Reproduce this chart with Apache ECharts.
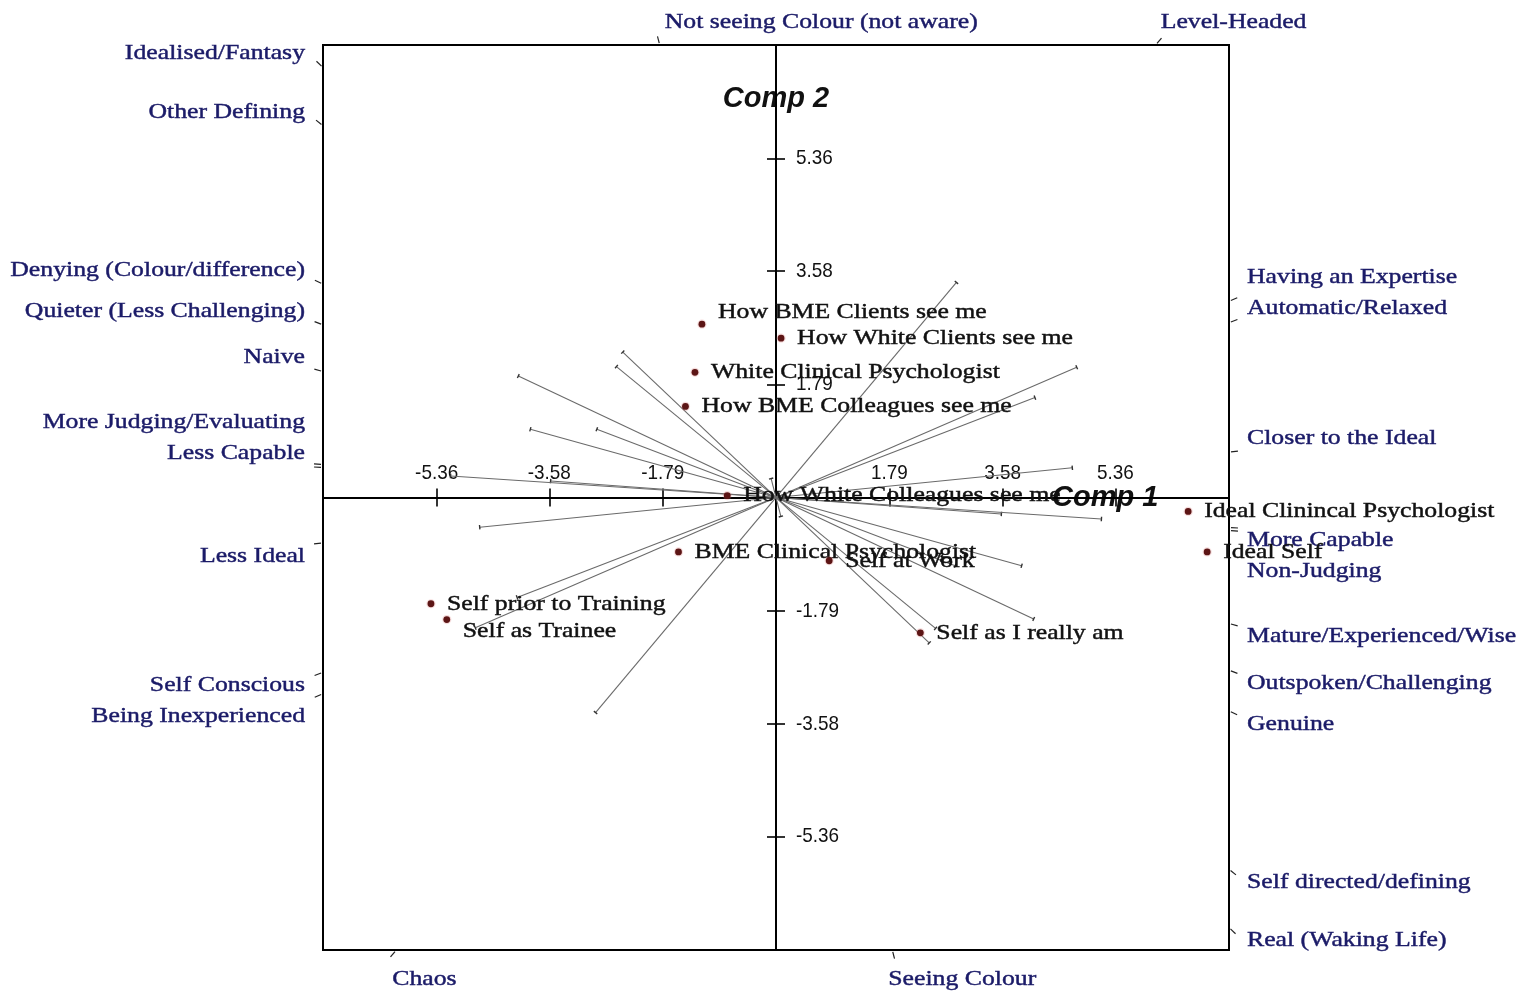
<!DOCTYPE html>
<html>
<head>
<meta charset="utf-8">
<title>Repertory grid biplot</title>
<script src="https://cdn.jsdelivr.net/npm/echarts@6/dist/echarts.min.js"></script>
<style>
  html, body { margin: 0; padding: 0; background: #ffffff; }
  #chart { width: 1523px; height: 994px; }
</style>
</head>
<body>
<div id="chart"></div>
<script>
// Elements: scores on the first two principal components
const elementNames = [
  'How BME Clients see me', 'How White Clients see me', 'White Clinical Psychologist',
  'How BME Colleagues see me', 'How White Colleagues see me', 'BME Clinical Psychologist',
  'Self at Work', 'Self as I really am', 'Self prior to Training', 'Self as Trainee',
  'Ideal Clinincal Psychologist', 'Ideal Self'
];
const elementComp1 = [-1.17, 0.08, -1.28, -1.43, -0.77, -1.54, 0.84, 2.28, -5.45, -5.20, 6.51, 6.81];
const elementComp2 = [2.74, 2.52, 1.98, 1.44, 0.03, -0.86, -1.00, -2.14, -1.68, -1.93, -0.22, -0.86];

// Constructs: the loading vector points to poleA, poleB lies opposite
const poleA = [
  'Idealised/Fantasy', 'Other Defining', 'Denying (Colour/difference)', 'Naive',
  'Quieter (Less Challenging)', 'More Judging/Evaluating', 'Less Capable', 'Less Ideal',
  'Automatic/Relaxed', 'Having an Expertise', 'Not seeing Colour (not aware)', 'Level-Headed'
];
const poleB = [
  'Real (Waking Life)', 'Self directed/defining', 'Genuine', 'Mature/Experienced/Wise',
  'Outspoken/Challenging', 'Non-Judging', 'More Capable', 'Closer to the Ideal',
  'Self Conscious', 'Being Inexperienced', 'Seeing Colour', 'Chaos'
];
const constructComp1 = [-2.42, -2.52, -4.07, -3.88, -2.83, -3.56, -5.14, -4.68, 4.09, 4.75, -0.077, 2.85];
const constructComp2 = [2.30, 2.07, 1.92, 1.08, 1.08, 0.26, 0.34, -0.47, 1.58, 2.06, 0.30, 3.40];

// Axis ticks and extent
const tickValues = [-5.36, -3.58, -1.79, 1.79, 3.58, 5.36];
const axisExtent = 7.155;

// ---------------------------------------------------------------------------
const SERIF = "'Liberation Serif', 'Times New Roman', serif";
const SANS = "'Liberation Sans Narrow', 'Arial Narrow', 'Liberation Sans', Arial, sans-serif";
const STRETCH = 1.17;          // horizontal text stretch for the serif labels
const POLE_COLOR = '#1b1b68';
const LINE_COLOR = '#6a6a6a';

// Element label nudges (pixels) where labels would collide
const elementLabelShift = { 0: [16, -12], 9: [16, 12] };

// Place pole labels round the frame where each construct leaves it
function poleLayout(api) {
  const L = axisExtent;
  const tl = api.coord([-L, L]);
  const br = api.coord([L, -L]);
  const origin = api.coord([0, 0]);
  const box = { left: tl[0], top: tl[1], right: br[0], bottom: br[1] };
  const poles = [];
  for (let i = 0; i < poleA.length; i++) {
    [1, -1].forEach(function (s) {
      const vx = s * constructComp1[i], vy = s * constructComp2[i];
      const t = L / Math.max(Math.abs(vx), Math.abs(vy));
      const e = api.coord([vx * t, vy * t]);
      const side = Math.abs(vx) >= Math.abs(vy) ? (vx < 0 ? 'left' : 'right') : (vy > 0 ? 'top' : 'bottom');
      const dx = e[0] - origin[0], dy = e[1] - origin[1];
      const len = Math.hypot(dx, dy);
      const p = { construct: i, name: s > 0 ? poleA[i] : poleB[i], side: side, edge: e, dir: [dx / len, dy / len] };
      if (side === 'left' || side === 'right') {
        p.upper = e[1] < origin[1];
        p.labelY = e[1] + (p.upper ? -14 : 13);
        p.labelX = side === 'left' ? box.left - 18 : box.right + 18;
        p.align = side === 'left' ? 'right' : 'left';
      } else if (side === 'top') {
        p.labelX = e[0] + 5;
        p.labelY = box.top - 23;
        p.align = 'left';
      } else {
        p.labelX = e[0] - 4;
        p.labelY = box.bottom + 29;
        p.align = 'left';
      }
      poles.push(p);
    });
  }
  // push crowded labels apart: away from the horizontal axis
  ['left', 'right'].forEach(function (side) {
    const up = poles.filter(p => p.side === side && p.upper).sort((a, b) => b.labelY - a.labelY);
    for (let k = 1; k < up.length; k++) up[k].labelY = Math.min(up[k].labelY, up[k - 1].labelY - 31);
    const down = poles.filter(p => p.side === side && !p.upper).sort((a, b) => a.labelY - b.labelY);
    for (let k = 1; k < down.length; k++) down[k].labelY = Math.max(down[k].labelY, down[k - 1].labelY + 31);
  });
  return poles;
}

function serifText(x, y, text, fill, align) {
  return {
    type: 'text', x: x, y: y, scaleX: STRETCH,
    style: { text: text, fill: fill, stroke: fill, lineWidth: 0.45, fontFamily: SERIF, fontSize: 22,
             align: align, verticalAlign: 'middle' }
  };
}

function renderConstruct(params, api) {
  const i = params.dataIndex;
  const vx = api.value(0), vy = api.value(1);
  const a = api.coord([vx, vy]);
  const b = api.coord([-vx, -vy]);
  const dx = a[0] - b[0], dy = a[1] - b[1];
  const len = Math.hypot(dx, dy);
  const nx = -dy / len * 2.2, ny = dx / len * 2.2;
  const children = [
    { type: 'line', shape: { x1: b[0], y1: b[1], x2: a[0], y2: a[1] },
      style: { stroke: LINE_COLOR, lineWidth: 1.1 } },
    { type: 'line', shape: { x1: a[0] - nx, y1: a[1] - ny, x2: a[0] + nx, y2: a[1] + ny },
      style: { stroke: '#333', lineWidth: 1.4 } },
    { type: 'line', shape: { x1: b[0] - nx, y1: b[1] - ny, x2: b[0] + nx, y2: b[1] + ny },
      style: { stroke: '#333', lineWidth: 1.4 } }
  ];
  poleLayout(api).filter(p => p.construct === i).forEach(function (p) {
    children.push({
      type: 'line',
      shape: { x1: p.edge[0] + p.dir[0] * 2, y1: p.edge[1] + p.dir[1] * 2,
               x2: p.edge[0] + p.dir[0] * 9, y2: p.edge[1] + p.dir[1] * 9 },
      style: { stroke: '#222', lineWidth: 1.2 }
    });
    children.push(serifText(p.labelX, p.labelY, p.name, POLE_COLOR, p.align));
  });
  return { type: 'group', children: children };
}

function renderElement(params, api) {
  const i = params.dataIndex;
  const p = api.coord([api.value(0), api.value(1)]);
  const off = elementLabelShift[i] || [16, 0];
  return {
    type: 'group',
    children: [
      { type: 'circle', shape: { cx: p[0], cy: p[1], r: 4.6 },
        style: { fill: 'rgba(220,120,120,0.25)' } },
      { type: 'circle', shape: { cx: p[0], cy: p[1], r: 3.4 },
        style: { fill: '#5c1515' } },
      serifText(p[0] + off[0], p[1] + off[1], elementNames[i], '#111', 'left')
    ]
  };
}

// Tick labels sit beside the axes that cross at the origin
function renderTickLabel(params, api) {
  const v = api.value(0);
  const label = v.toFixed(2);
  const px = api.coord([v, 0]);
  const py = api.coord([0, v]);
  const style = { fill: '#111', fontFamily: SANS, fontSize: 21 };
  return {
    type: 'group',
    children: [
      { type: 'text', x: px[0], y: px[1] - 24, scaleX: 0.9,
        style: Object.assign({ text: label, align: 'center', verticalAlign: 'middle' }, style) },
      { type: 'text', x: py[0] + 20, y: py[1], scaleX: 0.9,
        style: Object.assign({ text: label, align: 'left', verticalAlign: 'middle' }, style) }
    ]
  };
}

const axisLineStyle = { color: '#000', width: 2 };
const tickStyle = { show: true, length: 9, customValues: tickValues, lineStyle: { color: '#000', width: 1.6 } };
const compName = { fontFamily: "'Liberation Sans', Arial, sans-serif", fontStyle: 'italic', fontWeight: 'bold',
                   fontSize: 29, color: '#111', backgroundColor: '#fff', padding: [0, 3] };

const base = { type: 'value', min: -axisExtent, max: axisExtent, splitLine: { show: false } };

const option = {
  animation: false,
  backgroundColor: '#ffffff',
  grid: { left: 323, top: 45, width: 906, height: 905, show: true, borderColor: '#000', borderWidth: 2,
          backgroundColor: 'transparent' },
  xAxis: [
    Object.assign({}, base, {
      position: 'bottom',
      axisLine: { onZero: true, lineStyle: axisLineStyle },
      axisTick: tickStyle,
      axisLabel: { show: false }
    }),
    Object.assign({}, base, {
      position: 'top',
      axisLine: { onZero: true, lineStyle: axisLineStyle },
      axisTick: tickStyle,
      axisLabel: { show: false },
      name: 'Comp 1', nameLocation: 'end', nameGap: -180, nameTextStyle: compName
    })
  ],
  yAxis: [
    Object.assign({}, base, {
      position: 'left',
      axisLine: { onZero: true, lineStyle: axisLineStyle },
      axisTick: tickStyle,
      axisLabel: { show: false }
    }),
    Object.assign({}, base, {
      position: 'right',
      axisLine: { onZero: true, lineStyle: axisLineStyle },
      axisTick: tickStyle,
      axisLabel: { show: false },
      name: 'Comp 2', nameLocation: 'end', nameGap: -68, nameTextStyle: compName
    })
  ],
  series: [
    {
      name: 'Tick labels', type: 'custom', coordinateSystem: 'cartesian2d',
      xAxisIndex: 0, yAxisIndex: 0, clip: false, z: 2,
      data: tickValues.map(v => [v, 0]),
      renderItem: renderTickLabel
    },
    {
      name: 'Constructs', type: 'custom', coordinateSystem: 'cartesian2d',
      xAxisIndex: 0, yAxisIndex: 0, clip: false, z: 3,
      data: constructComp1.map((x, i) => [x, constructComp2[i]]),
      renderItem: renderConstruct
    },
    {
      name: 'Elements', type: 'custom', coordinateSystem: 'cartesian2d',
      xAxisIndex: 0, yAxisIndex: 0, clip: false, z: 4,
      data: elementComp1.map((x, i) => [x, elementComp2[i]]),
      renderItem: renderElement
    }
  ]
};

const chart = echarts.init(document.getElementById('chart'), null, { renderer: 'canvas' });
chart.setOption(option);
</script>
</body>
</html>
